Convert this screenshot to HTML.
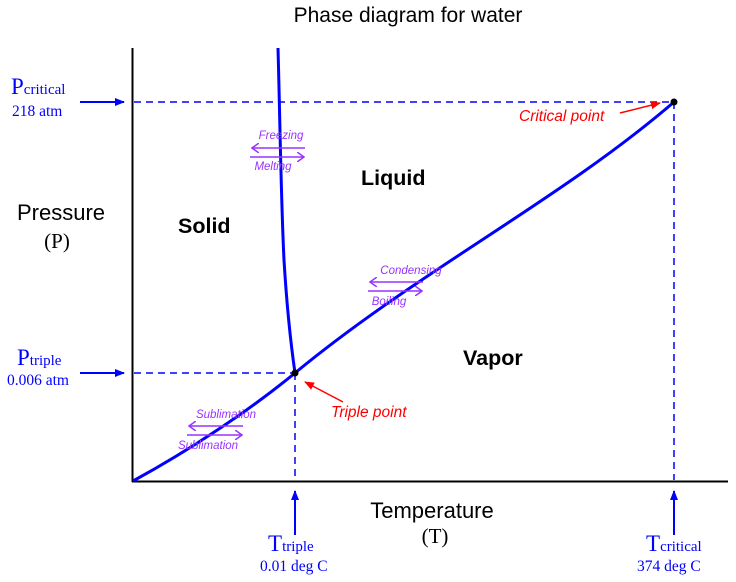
<!DOCTYPE html>
<html><head><meta charset="utf-8"><style>
html,body{margin:0;padding:0;background:#fff;}
svg{display:block;}
.sans{font-family:"Liberation Sans",sans-serif;}
.serif{font-family:"Liberation Serif",serif;}
</style></head><body>
<svg width="736" height="582" viewBox="0 0 736 582" xmlns="http://www.w3.org/2000/svg">
<defs>
<marker id="ab" markerWidth="10" markerHeight="8" refX="9" refY="4" orient="auto" markerUnits="userSpaceOnUse"><path d="M0,0 L10,4 L0,8 Z" fill="#0000ff"/></marker>
<marker id="ar" markerWidth="10" markerHeight="8" refX="9" refY="4" orient="auto" markerUnits="userSpaceOnUse"><path d="M0,0 L10,4 L0,8 Z" fill="#ff0000"/></marker>
<marker id="ap" markerWidth="8" markerHeight="10" refX="7" refY="5" orient="auto" markerUnits="userSpaceOnUse"><path d="M0,0 L7,5 L0,10" fill="none" stroke="#9933ff" stroke-width="1.5"/></marker>
</defs>
<text x="408" y="22" class="sans" font-size="21" text-anchor="middle">Phase diagram for water</text>
<line x1="132.5" y1="48" x2="132.5" y2="482" stroke="#000" stroke-width="2"/>
<line x1="132" y1="481.5" x2="728" y2="481.5" stroke="#000" stroke-width="2"/>
<g stroke="#0000ff" stroke-width="1.5" stroke-dasharray="7,5" fill="none">
<line x1="134" y1="102" x2="674" y2="102"/>
<line x1="674" y1="102" x2="674" y2="480"/>
<line x1="134" y1="373" x2="295" y2="373"/>
<line x1="295" y1="373" x2="295" y2="480"/>
</g>
<g stroke="#0000ff" stroke-width="3" fill="none">
<path d="M278,48 C280,120 281,200 284,260 C287,310 291,345 295,373"/>
<path d="M133,481 C190,450 250,410 295,373"/>
<path d="M295,373 C420,270 560,200 674,102"/>
</g>
<circle cx="295" cy="373" r="3.5" fill="#000"/>
<circle cx="674" cy="102" r="3.5" fill="#000"/>
<g stroke="#0000ff" stroke-width="2">
<line x1="80" y1="102" x2="124" y2="102" marker-end="url(#ab)"/>
<line x1="80" y1="373" x2="124" y2="373" marker-end="url(#ab)"/>
<line x1="295" y1="535" x2="295" y2="491" marker-end="url(#ab)"/>
<line x1="674" y1="535" x2="674" y2="491" marker-end="url(#ab)"/>
</g>
<g class="serif" fill="#0000ff">
<text x="11" y="94" font-size="23">P<tspan font-size="15">critical</tspan></text>
<text x="12" y="116" font-size="15.5">218 atm</text>
<text x="17" y="365" font-size="23">P<tspan font-size="15">triple</tspan></text>
<text x="7" y="385" font-size="15.5">0.006 atm</text>
<text x="268" y="551" font-size="23">T<tspan font-size="15">triple</tspan></text>
<text x="260" y="571" font-size="15.5">0.01 deg C</text>
<text x="646" y="551" font-size="23">T<tspan font-size="15">critical</tspan></text>
<text x="637" y="571" font-size="15.5">374 deg C</text>
</g>
<text x="61" y="220" class="sans" font-size="22" text-anchor="middle">Pressure</text>
<text x="57" y="248" class="serif" font-size="21" text-anchor="middle">(P)</text>
<text x="432" y="518" class="sans" font-size="22" text-anchor="middle">Temperature</text>
<text x="435" y="543" class="serif" font-size="21" text-anchor="middle">(T)</text>
<g class="sans" font-weight="bold" font-size="21.5">
<text x="178" y="233">Solid</text>
<text x="361" y="185">Liquid</text>
<text x="463" y="365">Vapor</text>
</g>
<g class="sans" font-style="italic" fill="#ff0000" font-size="15.5">
<text x="519" y="121">Critical point</text>
<text x="331" y="417">Triple point</text>
</g>
<g stroke="#ff0000" stroke-width="1.5">
<line x1="620" y1="113" x2="660" y2="103" marker-end="url(#ar)"/>
<line x1="343" y1="402" x2="305" y2="382" marker-end="url(#ar)"/>
</g>
<g stroke="#9933ff" stroke-width="1.5">
<line x1="305" y1="148" x2="252" y2="148" marker-end="url(#ap)"/>
<line x1="250" y1="157" x2="304" y2="157" marker-end="url(#ap)"/>
<line x1="423" y1="282" x2="370" y2="282" marker-end="url(#ap)"/>
<line x1="368" y1="291" x2="422" y2="291" marker-end="url(#ap)"/>
<line x1="243" y1="426" x2="189" y2="426" marker-end="url(#ap)"/>
<line x1="187" y1="435" x2="242" y2="435" marker-end="url(#ap)"/>
</g>
<g class="sans" font-style="italic" fill="#9933ff" font-size="11.5" text-anchor="middle">
<text x="281" y="139">Freezing</text>
<text x="273" y="170">Melting</text>
<text x="411" y="274">Condensing</text>
<text x="389" y="305">Boiling</text>
<text x="226" y="418">Sublimation</text>
<text x="208" y="449">Sublimation</text>
</g>
</svg>
</body></html>
